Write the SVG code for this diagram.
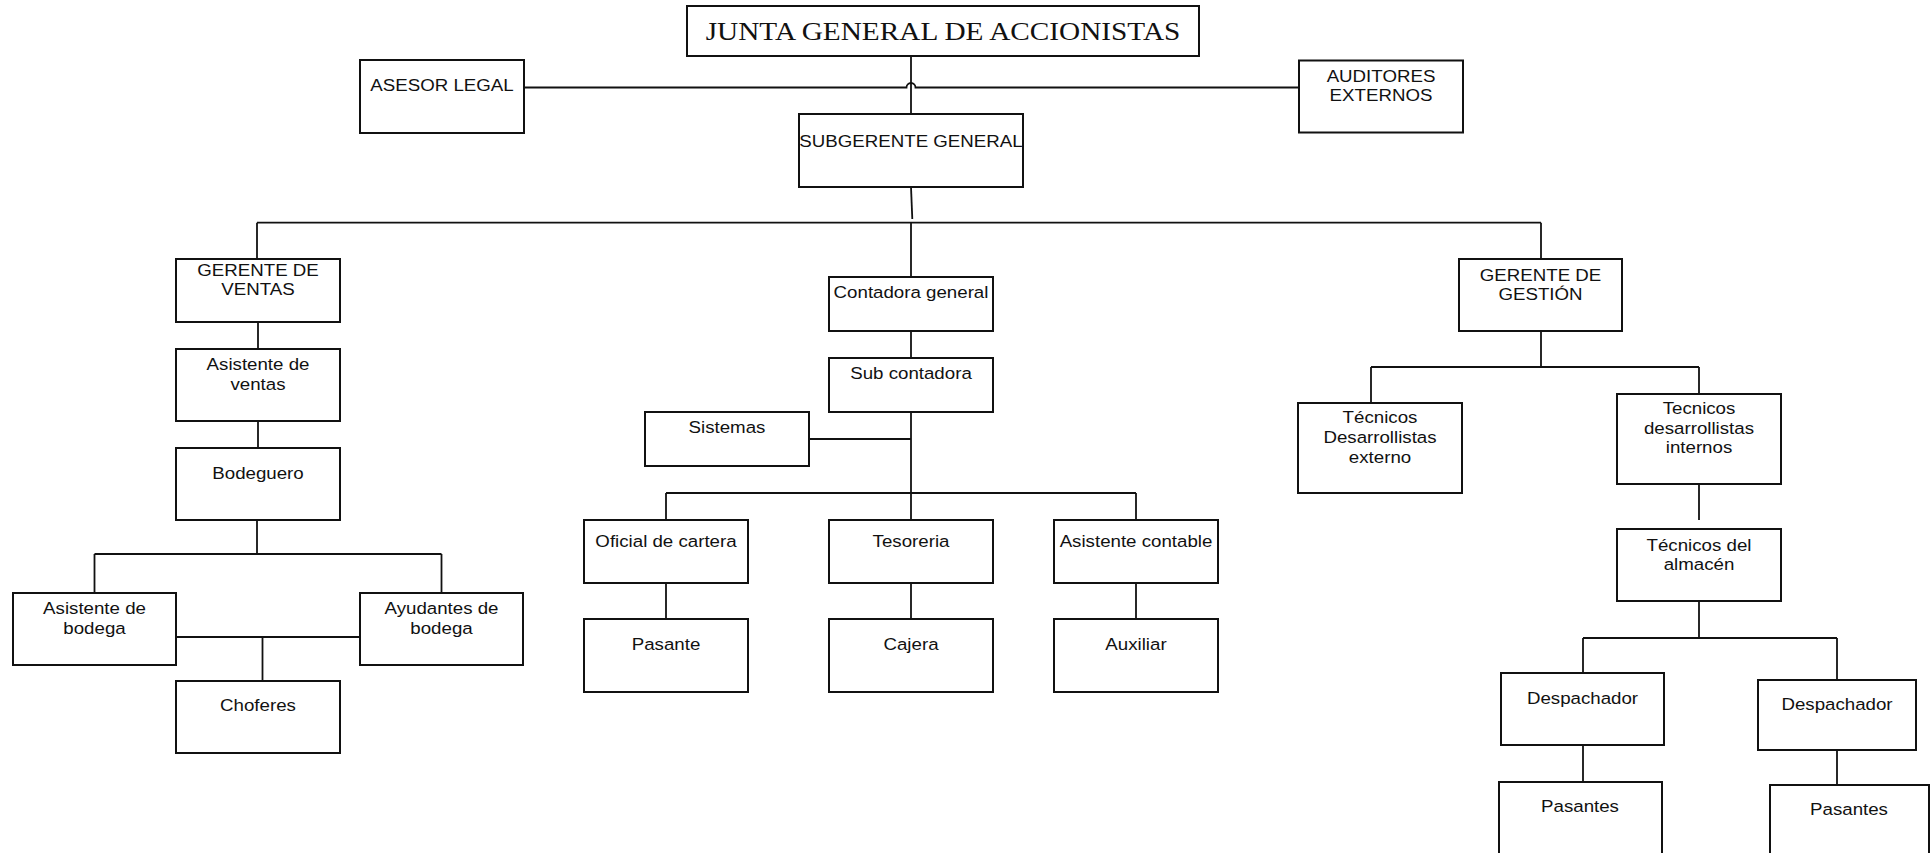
<svg xmlns="http://www.w3.org/2000/svg" width="1930" height="853" viewBox="0 0 1930 853">
  <style>
    .box { fill: #ffffff; stroke: #111111; stroke-width: 2; }
    .wire { fill: none; stroke: #111111; stroke-width: 1.8; }
    .t { font-family: "Liberation Sans", Arial, sans-serif; font-size: 17px; fill: #111111; text-anchor: middle; }
    .title { font-family: "Liberation Serif", "Times New Roman", serif; font-size: 26px; fill: #111111; text-anchor: middle; }
  </style>
  <rect width="1930" height="853" fill="#ffffff"/>

  <!-- connectors -->
  <g id="connectors" class="wire">
    <path d="M911,56 V114"/>
    <path d="M524,87.5 H906.5 A4.5,4.5 0 0 1 915.5,87.5 H1299"/>
    <path d="M911,187 L912.3,219"/>
    <path d="M257,222.7 H1541"/>
    <path d="M257,222.7 V259"/>
    <path d="M911,222.7 V277"/>
    <path d="M1541,222.7 V259"/>
    <!-- ventas branch -->
    <path d="M258,322 V349"/>
    <path d="M258,421 V448"/>
    <path d="M257,520 V554"/>
    <path d="M94.5,554 H441.5"/>
    <path d="M94.5,554 V593"/>
    <path d="M441.5,554 V593"/>
    <path d="M176,637 H360"/>
    <path d="M262.5,637 V681"/>
    <!-- contabilidad branch -->
    <path d="M911,331 V358"/>
    <path d="M911,412 V520"/>
    <path d="M809,439 H911"/>
    <path d="M666,493 H1136"/>
    <path d="M666,493 V520"/>
    <path d="M1136,493 V520"/>
    <path d="M666,583 V619"/>
    <path d="M911,583 V619"/>
    <path d="M1136,583 V619"/>
    <!-- gestion branch -->
    <path d="M1541,331 V367"/>
    <path d="M1371,367 H1699"/>
    <path d="M1371,367 V403"/>
    <path d="M1699,367 V394"/>
    <path d="M1699,484 V520"/>
    <path d="M1699,601 V638"/>
    <path d="M1583,638 H1837"/>
    <path d="M1583,638 V673"/>
    <path d="M1837,638 V680"/>
    <path d="M1583,745 V782"/>
    <path d="M1837,750 V785"/>
  </g>

  <g id="n-junta">
    <rect class="box" x="687" y="6" width="512" height="50"/>
    <text class="title" transform="translate(943 40) scale(1.126 1)">JUNTA GENERAL DE ACCIONISTAS</text>
  </g>
  <g id="n-asesor">
    <rect class="box" x="360" y="60" width="164" height="73"/>
    <text class="t" transform="translate(442 91) scale(1.1 1)">ASESOR LEGAL</text>
  </g>
  <g id="n-auditores">
    <rect class="box" x="1299" y="60.5" width="164" height="72"/>
    <text class="t" transform="translate(1381 82) scale(1.1 1)"><tspan x="0">AUDITORES</tspan><tspan x="0" dy="19">EXTERNOS</tspan></text>
  </g>
  <g id="n-subgerente">
    <rect class="box" x="799" y="114" width="224" height="73"/>
    <text class="t" transform="translate(911 147) scale(1.1 1)">SUBGERENTE GENERAL</text>
  </g>

  <g id="n-gerente-ventas">
    <rect class="box" x="176" y="259" width="164" height="63"/>
    <text class="t" transform="translate(258 276) scale(1.1 1)"><tspan x="0">GERENTE DE</tspan><tspan x="0" dy="19">VENTAS</tspan></text>
  </g>
  <g id="n-asistente-ventas">
    <rect class="box" x="176" y="349" width="164" height="72"/>
    <text class="t" transform="translate(258 370) scale(1.1 1)"><tspan x="0">Asistente de</tspan><tspan x="0" dy="20">ventas</tspan></text>
  </g>
  <g id="n-bodeguero">
    <rect class="box" x="176" y="448" width="164" height="72"/>
    <text class="t" transform="translate(258 479) scale(1.1 1)">Bodeguero</text>
  </g>
  <g id="n-asistente-bodega">
    <rect class="box" x="13" y="593" width="163" height="72"/>
    <text class="t" transform="translate(94.5 614) scale(1.1 1)"><tspan x="0">Asistente de</tspan><tspan x="0" dy="20">bodega</tspan></text>
  </g>
  <g id="n-ayudantes-bodega">
    <rect class="box" x="360" y="593" width="163" height="72"/>
    <text class="t" transform="translate(441.5 614) scale(1.1 1)"><tspan x="0">Ayudantes de</tspan><tspan x="0" dy="20">bodega</tspan></text>
  </g>
  <g id="n-choferes">
    <rect class="box" x="176" y="681" width="164" height="72"/>
    <text class="t" transform="translate(258 711) scale(1.1 1)">Choferes</text>
  </g>

  <g id="n-contadora">
    <rect class="box" x="829" y="277" width="164" height="54"/>
    <text class="t" transform="translate(911 298) scale(1.1 1)">Contadora general</text>
  </g>
  <g id="n-subcontadora">
    <rect class="box" x="829" y="358" width="164" height="54"/>
    <text class="t" transform="translate(911 379) scale(1.1 1)">Sub contadora</text>
  </g>
  <g id="n-sistemas">
    <rect class="box" x="645" y="412" width="164" height="54"/>
    <text class="t" transform="translate(727 433) scale(1.1 1)">Sistemas</text>
  </g>
  <g id="n-oficial-cartera">
    <rect class="box" x="584" y="520" width="164" height="63"/>
    <text class="t" transform="translate(666 547) scale(1.1 1)">Oficial de cartera</text>
  </g>
  <g id="n-tesoreria">
    <rect class="box" x="829" y="520" width="164" height="63"/>
    <text class="t" transform="translate(911 547) scale(1.1 1)">Tesoreria</text>
  </g>
  <g id="n-asistente-contable">
    <rect class="box" x="1054" y="520" width="164" height="63"/>
    <text class="t" transform="translate(1136 547) scale(1.1 1)">Asistente contable</text>
  </g>
  <g id="n-pasante">
    <rect class="box" x="584" y="619" width="164" height="73"/>
    <text class="t" transform="translate(666 650) scale(1.1 1)">Pasante</text>
  </g>
  <g id="n-cajera">
    <rect class="box" x="829" y="619" width="164" height="73"/>
    <text class="t" transform="translate(911 650) scale(1.1 1)">Cajera</text>
  </g>
  <g id="n-auxiliar">
    <rect class="box" x="1054" y="619" width="164" height="73"/>
    <text class="t" transform="translate(1136 650) scale(1.1 1)">Auxiliar</text>
  </g>

  <g id="n-gerente-gestion">
    <rect class="box" x="1459" y="259" width="163" height="72"/>
    <text class="t" transform="translate(1540.5 281) scale(1.1 1)"><tspan x="0">GERENTE DE</tspan><tspan x="0" dy="19">GESTIÓN</tspan></text>
  </g>
  <g id="n-tecnicos-externo">
    <rect class="box" x="1298" y="403" width="164" height="90"/>
    <text class="t" transform="translate(1380 423) scale(1.1 1)"><tspan x="0">Técnicos</tspan><tspan x="0" dy="20">Desarrollistas</tspan><tspan x="0" dy="20">externo</tspan></text>
  </g>
  <g id="n-tecnicos-internos">
    <rect class="box" x="1617" y="394" width="164" height="90"/>
    <text class="t" transform="translate(1699 414) scale(1.1 1)"><tspan x="0">Tecnicos</tspan><tspan x="0" dy="20">desarrollistas</tspan><tspan x="0" dy="19.5">internos</tspan></text>
  </g>
  <g id="n-tecnicos-almacen">
    <rect class="box" x="1617" y="529" width="164" height="72"/>
    <text class="t" transform="translate(1699 551) scale(1.1 1)"><tspan x="0">Técnicos del</tspan><tspan x="0" dy="19.5">almacén</tspan></text>
  </g>
  <g id="n-despachador-1">
    <rect class="box" x="1501" y="673" width="163" height="72"/>
    <text class="t" transform="translate(1582.5 704) scale(1.1 1)">Despachador</text>
  </g>
  <g id="n-despachador-2">
    <rect class="box" x="1758" y="680" width="158" height="70"/>
    <text class="t" transform="translate(1837 710) scale(1.1 1)">Despachador</text>
  </g>
  <g id="n-pasantes-1">
    <rect class="box" x="1499" y="782" width="163" height="100"/>
    <text class="t" transform="translate(1580 812) scale(1.1 1)">Pasantes</text>
  </g>
  <g id="n-pasantes-2">
    <rect class="box" x="1770" y="785" width="159" height="100"/>
    <text class="t" transform="translate(1849 815) scale(1.1 1)">Pasantes</text>
  </g>
</svg>
